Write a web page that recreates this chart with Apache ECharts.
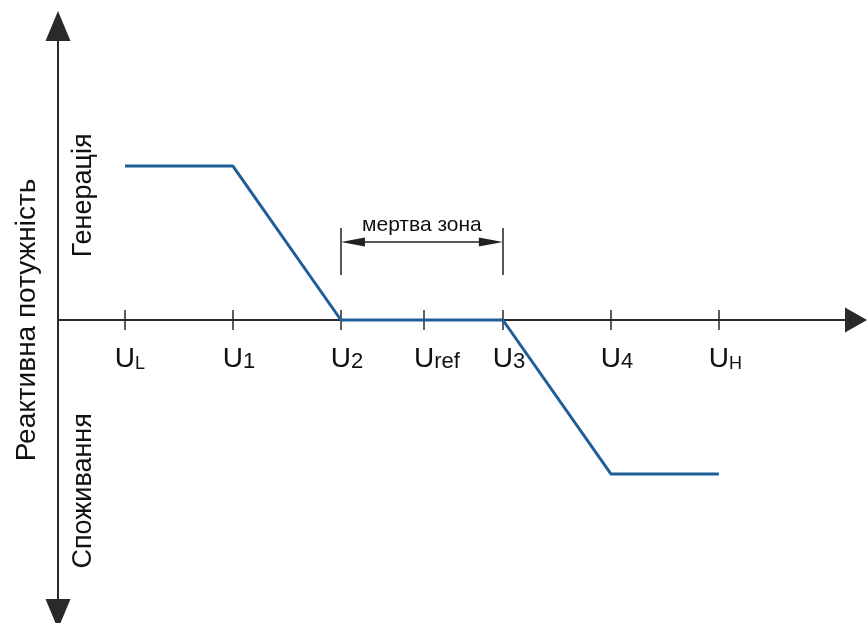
<!DOCTYPE html>
<html>
<head>
<meta charset="utf-8">
<script src="https://cdn.jsdelivr.net/npm/echarts@6/dist/echarts.min.js"></script>
<style>
html,body{margin:0;padding:0;background:#fff;}
#chart{width:867px;height:623px;}
</style>
</head>
<body>
<div id="chart"></div>
<script>
// ---- data ----
const tickSubs = ['L', '1', '2', 'ref', '3', '4', 'H'];      // U subscripts
const tickValues = [0, 1, 2, 2.77, 3.5, 4.5, 5.5];          // voltage positions
const curveU = [0, 1, 2, 3.5, 4.5, 5.5];                     // curve voltage points
const curveQ = [1, 1, 0, 0, -1, -1];                         // reactive power
const deadZone = [2, 3.5];                                   // U2 .. U3
const deadZoneLabel = 'мертва зона';
const yAxisTitle = 'Реактивна потужність';
const regionLabels = ['Генерація', 'Споживання'];
const regionValues = [0.81, -1.11];

// ---- styling helpers ----
const FONT = '"Liberation Sans", Arial, sans-serif';
const U_SIZE = 28, SUB_SIZE = 22, CAP_SIZE = 18;
const ctx = document.createElement('canvas').getContext('2d');
function textWidth(t, size) { ctx.font = size + 'px ' + FONT; return ctx.measureText(t).width; }
function subStyle(s) { return /^[A-Z]$/.test(s) ? 'c' : 's'; }

const rich = {
  u: { fontSize: U_SIZE, fontFamily: FONT, color: '#111', lineHeight: U_SIZE, verticalAlign: 'bottom' },
  s: { fontSize: SUB_SIZE, fontFamily: FONT, color: '#111', lineHeight: SUB_SIZE, verticalAlign: 'bottom' },
  c: { fontSize: CAP_SIZE, fontFamily: FONT, color: '#111', lineHeight: CAP_SIZE, verticalAlign: 'bottom' }
};
tickSubs.forEach((s, i) => {
  const size = subStyle(s) === 'c' ? CAP_SIZE : SUB_SIZE;
  rich['sp' + i] = { width: textWidth(s, size), fontSize: size, lineHeight: size, verticalAlign: 'bottom' };
});

function idxOf(v) {
  let best = 0;
  tickValues.forEach((t, i) => { if (Math.abs(t - v) < Math.abs(tickValues[best] - v)) best = i; });
  return best;
}

const X_MIN = -0.62, X_MAX = 6.77, Y_MIN = -1.91, Y_MAX = 1.91;
const GRID_TOP = 26, GRID_BOTTOM = 9;
const ZERO_OFFSET = (623 - GRID_TOP - GRID_BOTTOM) / 2; // distance from grid edge to Q = 0
const AXIS_COLOR = '#2a2a2a';
const inset = 12 / 108; // half of arrow head length in axis units

const chart = echarts.init(document.getElementById('chart'), null, { renderer: 'canvas' });
chart.setOption({
  animation: false,
  backgroundColor: '#fff',
  grid: { left: 58, right: 11, top: GRID_TOP, bottom: GRID_BOTTOM, containLabel: false, outerBoundsMode: 'none' },
  xAxis: [
    {
      type: 'value', min: X_MIN, max: X_MAX, position: 'bottom', offset: -ZERO_OFFSET,
      splitLine: { show: false },
      axisLine: { onZero: false, symbol: ['none', 'triangle'], symbolSize: [25, 22],
                  lineStyle: { color: AXIS_COLOR, width: 2 } },
      axisTick: { show: true, customValues: tickValues, length: 10, lineStyle: { color: AXIS_COLOR, width: 1.5 } },
      axisLabel: {
        show: true, customValues: tickValues, margin: 25, rich: rich,
        formatter: v => { const i = idxOf(v); const s = tickSubs[i]; return '{sp' + i + '| }{u|U}{' + subStyle(s) + '|' + s + '}'; }
      }
    },
    {
      type: 'value', min: X_MIN, max: X_MAX, position: 'top', offset: -ZERO_OFFSET,
      splitLine: { show: false },
      axisLine: { show: false, onZero: false },
      axisTick: { show: true, customValues: tickValues, length: 10, lineStyle: { color: AXIS_COLOR, width: 1.5 } },
      axisLabel: { show: false }
    }
  ],
  yAxis: {
    type: 'value', min: Y_MIN, max: Y_MAX, position: 'left',
    splitLine: { show: false },
    axisLine: { onZero: false, symbol: ['triangle', 'triangle'], symbolSize: [25, 30],
                lineStyle: { color: AXIS_COLOR, width: 2 } },
    axisTick: { show: false },
    axisLabel: {
      show: true, customValues: regionValues, inside: true, rotate: 90, margin: 12,
      fontSize: 27, fontFamily: FONT, color: '#111',
      formatter: v => regionLabels[regionValues.indexOf(v)]
    },
    name: yAxisTitle, nameLocation: 'middle', nameRotate: 90, nameGap: 17,
    nameTextStyle: { fontSize: 28, fontFamily: FONT, color: '#111' }
  },
  series: [
    {
      type: 'line', xAxisIndex: 0, yAxisIndex: 0,
      data: curveU.map((u, i) => [u, curveQ[i]]),
      symbol: 'none',
      lineStyle: { color: '#1f5f99', width: 3 },
      z: 3
    },
    {
      type: 'line', xAxisIndex: 0, yAxisIndex: 0, data: [],
      markLine: {
        silent: true, animation: false,
        symbol: ['none', 'none'],
        lineStyle: { color: '#222', width: 1.5, type: 'solid' },
        label: { show: false },
        data: [
          [
            { coord: [deadZone[0] + inset, 0.506], symbol: 'triangle', symbolSize: [9, 24],
              label: { show: true, position: 'insideMiddleTop', distance: 6, formatter: deadZoneLabel,
                       fontSize: 21, fontFamily: FONT, color: '#111' } },
            { coord: [deadZone[1] - inset, 0.506], symbol: 'triangle', symbolSize: [9, 24] }
          ],
          [ { coord: [deadZone[0], 0.292] }, { coord: [deadZone[0], 0.597] } ],
          [ { coord: [deadZone[1], 0.292] }, { coord: [deadZone[1], 0.597] } ]
        ]
      }
    }
  ]
});
</script>
</body>
</html>
